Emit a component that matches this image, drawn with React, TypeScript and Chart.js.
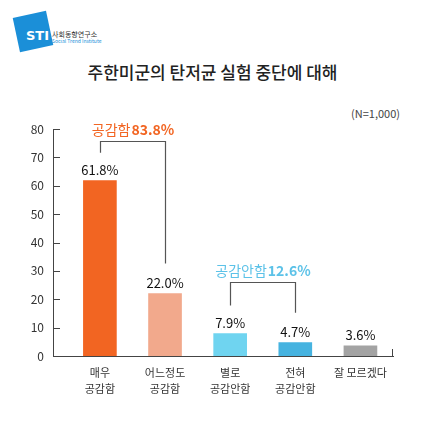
import React, { useEffect, useRef } from "react";
import { Chart, registerables } from "chart.js";

Chart.register(...registerables);

const CATEGORIES: (string | string[])[] = [
  ["매우", "공감함"],
  ["어느정도", "공감함"],
  ["별로", "공감안함"],
  ["전혀", "공감안함"],
  "잘 모르겠다",
];
const VALUES = [61.8, 22.0, 7.9, 4.7, 3.6];
const BAR_COLORS = ["#f26522", "#f2a98c", "#6fd4f0", "#46b3e0", "#a3a3a3"];
const Y_TICKS = [0, 10, 20, 30, 40, 50, 60, 70, 80];
const GROUP_NAMES = ["공감함", "공감안함"];
const GROUP_TOTALS = ["83.8%", "12.6%"];
const GROUP_MEMBERS = [
  [0, 1],
  [2, 3],
];
const GROUP_COLORS = ["#f26522", "#5cc2e8"];

const FONT = "'Noto Sans CJK KR', 'Noto Sans', sans-serif";

const decorPlugin = {
  id: "decor",
  afterDatasetsDraw(chart: any) {
    const { ctx, chartArea, scales } = chart;
    const x = scales.x;
    const y = scales.y;
    ctx.save();
    // inward y ticks
    ctx.strokeStyle = "#444";
    ctx.lineWidth = 1;
    Y_TICKS.forEach((t) => {
      const py = Math.round(y.getPixelForValue(t)) + 0.5;
      ctx.beginPath();
      ctx.moveTo(chartArea.left, py);
      ctx.lineTo(chartArea.left + 7, py);
      ctx.stroke();
    });
    // right end tick of x axis
    ctx.beginPath();
    ctx.moveTo(chartArea.right - 0.5, chartArea.bottom);
    ctx.lineTo(chartArea.right - 0.5, chartArea.bottom - 7);
    ctx.stroke();

    // value labels
    ctx.fillStyle = "#111";
    ctx.font = `13px ${FONT}`;
    ctx.textAlign = "center";
    ctx.textBaseline = "alphabetic";
    VALUES.forEach((v, i) => {
      const px = x.getPixelForValue(i);
      const py = y.getPixelForValue(v);
      ctx.fillText(`${v.toFixed(1)}%`, px, py - 6);
    });

    // brackets
    const gaps = [12, 24];
    GROUP_MEMBERS.forEach((m, gi) => {
      const [a, b] = m;
      const xa = Math.round(x.getPixelForValue(a)) + 0.5;
      const xb = Math.round(x.getPixelForValue(b)) + 0.5;
      const ya = y.getPixelForValue(VALUES[a]) - 28;
      const yb = y.getPixelForValue(VALUES[b]) - 30;
      const top = Math.round(Math.min(ya, yb) - gaps[gi]) + 0.5;
      ctx.strokeStyle = "#555";
      ctx.lineWidth = 1.2;
      ctx.beginPath();
      ctx.moveTo(xa, ya);
      ctx.lineTo(xa, top);
      ctx.lineTo(xb, top);
      ctx.lineTo(xb, yb);
      ctx.stroke();
      // label
      const name = GROUP_NAMES[gi];
      const total = GROUP_TOTALS[gi];
      ctx.font = `14px ${FONT}`;
      const w1 = ctx.measureText(name).width;
      ctx.font = `bold 14px ${FONT}`;
      const w2 = ctx.measureText(total).width;
      const mid = (xa + xb) / 2;
      const start = mid - (w1 + w2 + 1) / 2;
      ctx.fillStyle = GROUP_COLORS[gi];
      ctx.textAlign = "left";
      ctx.font = `14px ${FONT}`;
      ctx.fillText(name, start, top - 7);
      ctx.font = `bold 14px ${FONT}`;
      ctx.fillText(total, start + w1 + 1, top - 7);
    });
    ctx.restore();
  },
};

function ChartCanvas() {
  const ref = useRef<HTMLCanvasElement | null>(null);
  useEffect(() => {
    if (!ref.current) return;
    const chart = new Chart(ref.current, {
      type: "bar",
      data: {
        datasets: [
          {
            data: VALUES.map((v, i) => ({ x: i, y: v })),
            backgroundColor: BAR_COLORS,
            barThickness: 33,
          },
        ],
      },
      options: {
        animation: false,
        responsive: false,
        layout: { padding: { top: 129, right: 32, left: 0, bottom: 0 } },
        plugins: {
          legend: { display: false },
          tooltip: { enabled: false },
        },
        scales: {
          x: {
            type: "linear",
            offset: false,
            min: -0.72,
            max: 4.5,
            grid: { display: false, drawTicks: false, offset: false },
            border: { display: true, color: "#444", width: 1 },
            afterBuildTicks: (scale: any) => {
              scale.ticks = CATEGORIES.map((_, i) => ({ value: i }));
            },
            afterFit: (scale: any) => {
              scale.height = 69;
            },
            ticks: {
              padding: 9,
              color: "#333",
              font: { family: FONT, size: 11, lineHeight: 1.45 },
              maxRotation: 0,
              autoSkip: false,
              callback: (v: any) => CATEGORIES[v as number],
            },
          },
          y: {
            min: 0,
            max: 80,
            grid: { display: false, drawTicks: false },
            border: { display: true, color: "#444", width: 1 },
            afterBuildTicks: (scale: any) => {
              scale.ticks = Y_TICKS.map((v) => ({ value: v }));
            },
            afterFit: (scale: any) => {
              scale.width = 53;
            },
            ticks: {
              padding: 9,
              color: "#333",
              font: { family: FONT, size: 12 },
            },
          },
        },
      } as any,
      plugins: [decorPlugin],
    });
    return () => chart.destroy();
  }, []);
  return (
    <canvas
      ref={ref}
      width={425}
      height={425}
      style={{ position: "absolute", left: 0, top: 0, width: 425, height: 425 }}
    />
  );
}

export default function App() {
  return (
    <div
      style={{
        position: "absolute",
        left: 0,
        top: 0,
        width: 425,
        height: 425,
        background: "#fff",
        overflow: "hidden",
        fontFamily: FONT,
      }}
    >
      <div
        style={{
          position: "absolute",
          left: 16,
          top: 14,
          width: 34,
          height: 35,
          background: "#1b8fd8",
          transform: "rotate(-12deg)",
        }}
      />
      <div
        style={{
          position: "absolute",
          left: 26,
          top: 28,
          color: "#fff",
          fontWeight: 700,
          fontSize: 13,
          fontFamily: "'DejaVu Sans', sans-serif",
          lineHeight: "15px",
        }}
      >
        STI
      </div>
      <div
        style={{
          position: "absolute",
          left: 52,
          top: 30,
          fontSize: 7,
          color: "#333",
          lineHeight: "8px",
          whiteSpace: "nowrap",
        }}
      >
        사회동향연구소
      </div>
      <div
        style={{
          position: "absolute",
          left: 52,
          top: 38,
          fontSize: 5,
          color: "#1b8fd8",
          lineHeight: "6px",
          whiteSpace: "nowrap",
        }}
      >
        Social Trend Institute
      </div>
      <div
        style={{
          position: "absolute",
          left: 0,
          width: 425,
          top: 60,
          textAlign: "center",
          fontSize: 17,
          color: "#222",
          lineHeight: "24px",
          fontWeight: 500,
        }}
      >
        주한미군의 탄저균 실험 중단에 대해
      </div>
      <div
        style={{
          position: "absolute",
          right: 25,
          top: 105,
          fontSize: 11,
          color: "#444",
          lineHeight: "16px",
        }}
      >
        (N=1,000)
      </div>
      <ChartCanvas />
    </div>
  );
}
